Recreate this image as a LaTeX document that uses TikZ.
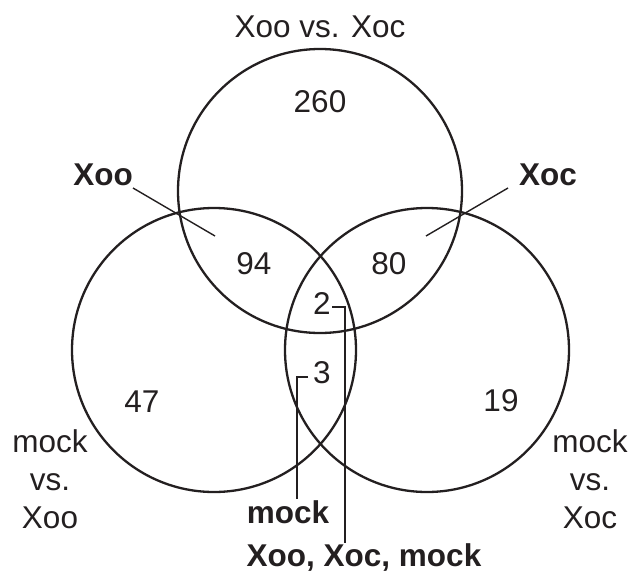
\documentclass[tikz,border=0pt]{standalone}
\usepackage{fontspec}
\setmainfont{Liberation Sans}
\definecolor{ink}{HTML}{231F20}
\begin{document}
\begin{tikzpicture}[x=1pt,y=-1pt,
  set/.style={draw=ink,line width=2.3pt},
  leader/.style={draw=ink,line width=1.4pt},
  lbl/.style={inner sep=0pt,anchor=base,text=ink,font=\fontsize{31.5}{38}\selectfont},
  blbl/.style={lbl,font=\fontsize{31.5}{38}\selectfont\bfseries},
  stack/.style={lbl,align=center}]
\useasboundingbox (0,0) rectangle (632,573);

% the three sets
\draw[set] (320,191) circle[radius=142];
\draw[set] (214,350) circle[radius=142];
\draw[set] (427,350) circle[radius=142];

% set titles (a stacked node sits on the baseline of its last line)
\node[lbl] (ttop) at (320,37) {Xoo vs. Xoc};
\node[stack] (tleft) at (50,528) {mock\\vs.\\Xoo};
\node[stack] (tright) at (590,528) {mock\\vs.\\Xoc};

% region counts
\node[lbl] (n260) at (320,112) {260};
\node[lbl] (n94) at (254,274) {94};
\node[lbl] (n80) at (389,274) {80};
\node[lbl] (n2) at (322,314) {2};
\node[lbl] (n3) at (322,383) {3};
\node[lbl] (n47) at (142,412) {47};
\node[lbl] (n19) at (501,411) {19};

% callout labels
\node[blbl] (cxoo) at (103,185) {Xoo};
\node[blbl] (cxoc) at (548,185) {Xoc};
\node[blbl] (cmock) at (288,523) {mock};
\node[blbl] (call) at (364,566) {Xoo, Xoc, mock};

% callout leaders
\coordinate (xooA) at (133,188);
\coordinate (xooB) at (215,236);
\coordinate (xocA) at (508,188);
\coordinate (xocB) at (426,236);
\coordinate (twoA) at (332,307);
\coordinate (twoB) at (345,543);
\coordinate (threeA) at (308,377);
\coordinate (threeB) at (297,499);
\draw[leader] (xooA) -- (xooB);
\draw[leader] (xocA) -- (xocB);
\draw[leader] (twoA) -| (twoB);
\draw[leader] (threeA) -| (threeB);
\end{tikzpicture}
\end{document}
